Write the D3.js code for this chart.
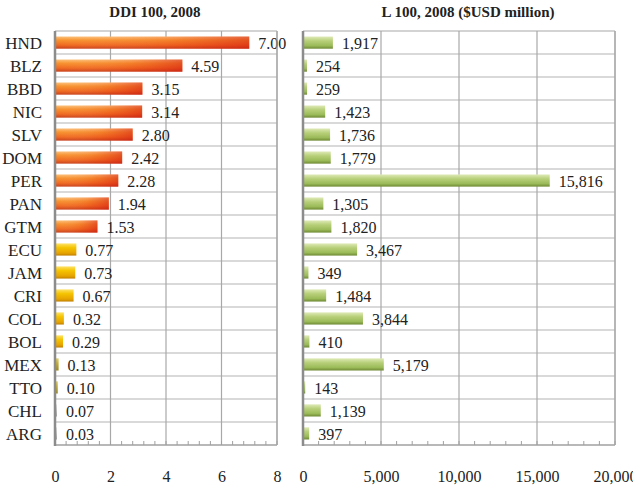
<!DOCTYPE html>
<html>
<head>
<meta charset="utf-8">
<script src="https://cdn.jsdelivr.net/npm/d3@7"></script>
<style>
  body { margin: 0; background: #fff; }
  text { font-family: "Liberation Serif", "Times New Roman", serif; fill: #222; }
</style>
</head>
<body>
<svg width="633" height="492"></svg>
<script>
// data
const countries = ["HND","BLZ","BBD","NIC","SLV","DOM","PER","PAN","GTM","ECU","JAM","CRI","COL","BOL","MEX","TTO","CHL","ARG"];
const ddi = [7.00,4.59,3.15,3.14,2.80,2.42,2.28,1.94,1.53,0.77,0.73,0.67,0.32,0.29,0.13,0.10,0.07,0.03];
const l100 = [1917,254,259,1423,1736,1779,15816,1305,1820,3467,349,1484,3844,410,5179,143,1139,397];
const ddiTicks = [0,2,4,6,8];
const lTicks = [0,5000,10000,15000,20000];

let svg = d3.select("svg");
let defs = svg.append("defs");

// gradients for the bars
function vGrad(id, stops) {
  let g = defs.append("linearGradient").attr("id", id)
    .attr("x1", 0).attr("y1", 0).attr("x2", 0).attr("y2", 1);
  stops.forEach(s => g.append("stop").attr("offset", s[0]).attr("stop-color", s[1]));
}
vGrad("gRed", [[0,"#fcc07a"],[0.3,"#f7922e"],[0.7,"#f06a20"],[1,"#c8401a"]]);
vGrad("gYel", [[0,"#fde26a"],[0.35,"#f5c400"],[0.8,"#e6a300"],[1,"#c08000"]]);
vGrad("gOli", [[0,"#e0d070"],[0.4,"#c8b030"],[1,"#9a8820"]]);
vGrad("gGry", [[0,"#e8e8e8"],[0.5,"#c8c8c8"],[1,"#a0a0a0"]]);
vGrad("gGrn", [[0,"#dfeab8"],[0.35,"#b8d07a"],[0.75,"#9bbb59"],[1,"#6f8a34"]]);
let hg = defs.append("linearGradient").attr("id", "gShade")
  .attr("x1", 0).attr("y1", 0).attr("x2", 1).attr("y2", 0);
hg.append("stop").attr("offset", 0).attr("stop-color", "#fff").attr("stop-opacity", 0);
hg.append("stop").attr("offset", 0.6).attr("stop-color", "#e02010").attr("stop-opacity", 0.15);
hg.append("stop").attr("offset", 1).attr("stop-color", "#d01010").attr("stop-opacity", 0.5);

// colour group of the left bars follows the value
let leftFill = d3.scaleThreshold()
  .domain([0.08, 0.2, 1])
  .range(["url(#gGry)", "url(#gOli)", "url(#gYel)", "url(#gRed)"]);

let plotTop = 31, plotBottom = 445;
let y = d3.scaleBand().domain(countries).range([plotTop, plotBottom]).paddingInner(0.47).paddingOuter(0.24);
let rows = d3.scaleBand().domain(countries).range([plotTop, plotBottom]);

function panel(opts) {
  let g = svg.append("g");
  let x = d3.scaleLinear().domain(opts.domain).range(opts.range);

  // horizontal row lines
  g.selectAll(".hl").data(countries.slice(1)).enter().append("line")
    .attr("x1", opts.range[0]).attr("x2", opts.range[1])
    .attr("y1", d => rows(d)).attr("y2", d => rows(d))
    .attr("stroke", "#b4b4b4").attr("stroke-width", 1.2);
  // vertical grid
  g.selectAll(".vl").data(opts.ticks.slice(1)).enter().append("line")
    .attr("x1", d => x(d)).attr("x2", d => x(d))
    .attr("y1", plotTop).attr("y2", plotBottom)
    .attr("stroke", "#a8a8a8").attr("stroke-width", 1.2);
  // top and bottom borders
  g.append("line").attr("x1", opts.range[0]).attr("x2", opts.range[1])
    .attr("y1", plotTop).attr("y2", plotTop).attr("stroke", "#a8a8a8").attr("stroke-width", 1.2);
  g.append("line").attr("x1", opts.range[0]).attr("x2", opts.range[1])
    .attr("y1", plotBottom).attr("y2", plotBottom).attr("stroke", "#a0a0a0").attr("stroke-width", 1.5);

  // minor ticks on bottom
  let minor = d3.range(opts.domain[0], opts.domain[1] + 1e-9, (opts.ticks[1] - opts.ticks[0]) / 5);
  g.selectAll(".mt").data(minor).enter().append("line")
    .attr("x1", d => x(d)).attr("x2", d => x(d))
    .attr("y1", plotBottom - 4).attr("y2", plotBottom)
    .attr("stroke", "#a0a0a0").attr("stroke-width", 1);

  // bars
  let bars = g.selectAll(".bar").data(opts.values).enter().append("g");
  bars.append("rect")
    .attr("x", x(0))
    .attr("y", (d, i) => y(countries[i]))
    .attr("height", y.bandwidth())
    .attr("width", d => Math.max(x(d) - x(0), 2))
    .attr("fill", d => opts.fill(d));
  if (opts.shade) {
    bars.filter(d => d > 1).append("rect")
      .attr("x", x(0))
      .attr("y", d => y(countries[opts.values.indexOf(d)]))
      .attr("height", y.bandwidth())
      .attr("width", d => x(d) - x(0))
      .attr("fill", "url(#gShade)");
  }

  // value labels
  g.selectAll(".val").data(opts.values).enter().append("text")
    .attr("x", d => x(0) + Math.max(x(d) - x(0), 2) + 9)
    .attr("y", (d, i) => rows(countries[i]) + rows.bandwidth() / 2)
    .attr("dy", "0.38em")
    .style("font-size", "16px")
    .text(d => opts.fmt(d));

  // left axis line
  g.append("line").attr("x1", x(0)).attr("x2", x(0))
    .attr("y1", plotTop).attr("y2", plotBottom + 1)
    .attr("stroke", "#8c8c8c").attr("stroke-width", 2.5);
  // right border
  g.append("line").attr("x1", opts.range[1]).attr("x2", opts.range[1])
    .attr("y1", plotTop).attr("y2", plotBottom)
    .attr("stroke", "#a8a8a8").attr("stroke-width", 1.2);

  // bottom axis labels
  let ax = g.append("g").attr("transform", "translate(0,479)")
    .call(d3.axisBottom(x).tickValues(opts.ticks).tickSize(0).tickFormat(opts.tickFmt));
  ax.select(".domain").remove();
  ax.selectAll("text").attr("dy", 0).style("font-size", "16px")
    .style("font-family", "'Liberation Serif', serif").attr("fill", "#222");

  // title
  svg.append("text").attr("x", opts.titleX).attr("y", 17)
    .attr("text-anchor", "middle")
    .style("font-size", "15px").style("font-weight", "bold")
    .text(opts.title);
  return g;
}

panel({
  domain: [0, 8], range: [55, 277], ticks: ddiTicks, values: ddi,
  fill: leftFill, shade: true, fmt: d3.format(".2f"), tickFmt: d3.format("d"),
  title: "DDI 100, 2008", titleX: 155
});
panel({
  domain: [0, 20000], range: [303, 615], ticks: lTicks, values: l100,
  fill: () => "url(#gGrn)", shade: false, fmt: d3.format(","), tickFmt: d3.format(","),
  title: "L 100, 2008 ($USD million)", titleX: 468
});

// country labels
svg.append("g").selectAll("text").data(countries).enter().append("text")
  .attr("x", 42)
  .attr("y", d => rows(d) + rows.bandwidth() / 2)
  .attr("dy", "0.36em")
  .attr("text-anchor", "end")
  .style("font-size", "17px")
  .text(d => d);
</script>
</body>
</html>
